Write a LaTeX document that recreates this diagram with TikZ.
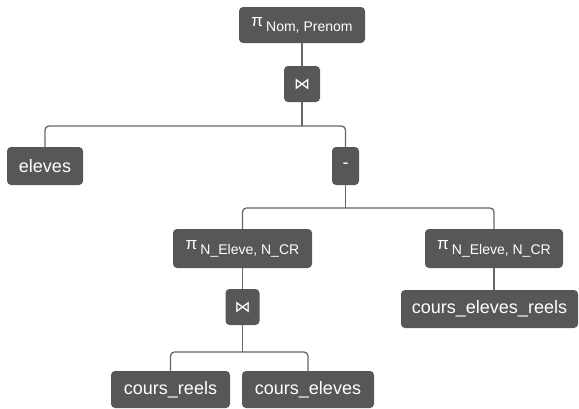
\documentclass[tikz,border=0pt]{standalone}
\usepackage{fontspec}
\setmainfont{Liberation Sans}
\newfontfamily\symfont{DejaVu Sans}
\definecolor{boxgray}{RGB}{87,87,87}
\definecolor{linkgray}{RGB}{102,102,102}
\tikzset{
  op/.style={fill=boxgray, rounded corners=4pt, text=white, inner sep=0pt,
    font=\fontsize{18}{20}\selectfont, align=center},
  link/.style={draw=linkgray, line width=1.3pt, rounded corners=4pt},
}
% projection: pi followed by a lowered attribute list
\newcommand{\projsub}[1]{{\fontsize{17}{17}\selectfont π}\,\raisebox{-5pt}{\fontsize{14}{14}\selectfont #1}}
\newcommand{\joinsym}{{\symfont\fontsize{16}{16}\selectfont ⋈}}

\begin{document}
\begin{tikzpicture}[x=1pt,y=-1pt]
\useasboundingbox (0,0) rectangle (579,408);

% operator and relation boxes
\node[op, minimum width=126pt, minimum height=36pt] (proj) at (302,25) {\projsub{Nom, Prenom}};
\node[op, minimum width=36pt, minimum height=36pt] (join) at (302,84) {\joinsym};
\node[op, minimum width=76pt, minimum height=38pt] (eleves) at (45,166) {eleves};
\node[op, minimum width=27pt, minimum height=38pt] (minus) at (345.5,166) {-};
\node[op, minimum width=139pt, minimum height=39pt] (pl) at (242.5,248.5) {\projsub{N\_Eleve, N\_CR}};
\node[op, minimum width=138pt, minimum height=39pt] (pr) at (494,248.5) {\projsub{N\_Eleve, N\_CR}};
\node[op, minimum width=34pt, minimum height=36pt] (join2) at (242.5,307) {\joinsym};
\node[op, minimum width=177pt, minimum height=38pt] (cer) at (489.5,309) {cours\_eleves\_reels};
\node[op, minimum width=119pt, minimum height=37pt] (cr) at (170.5,389.5) {cours\_reels};
\node[op, minimum width=132pt, minimum height=37pt] (ce) at (308,389.5) {cours\_eleves};

% levels of the horizontal branch bars
\coordinate (bar1) at (0,126);
\coordinate (bar2) at (0,208);
\coordinate (bar3) at (0,352);

% connectors
\draw[link] (proj.south) -- (join.north);
\draw[link] (join.south) -- (join.south |- bar1);
\draw[link] (eleves.north) -- (eleves.north |- bar1) -- (minus.north |- bar1) -- (minus.north);
\draw[link] (minus.south) -- (minus.south |- bar2);
\draw[link] (pl.north) -- (pl.north |- bar2) -- (pr.north |- bar2) -- (pr.north);
\draw[link] (pl.south) -- (join2.north);
\draw[link] (pr.south) -- (pr.south |- cer.north);
\draw[link] (join2.south) -- (join2.south |- bar3);
\draw[link] (cr.north) -- (cr.north |- bar3) -- (ce.north |- bar3) -- (ce.north);
\end{tikzpicture}
\end{document}
